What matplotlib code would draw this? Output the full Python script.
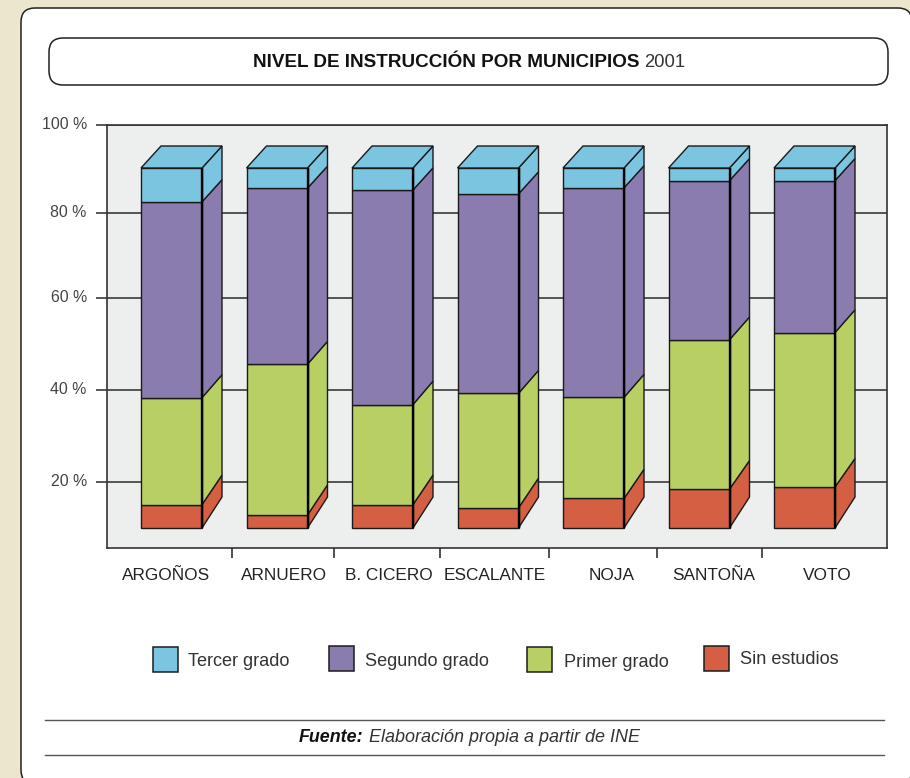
import matplotlib
matplotlib.use("Agg")
import matplotlib.pyplot as plt
from matplotlib.patches import FancyBboxPatch, Rectangle, Polygon
from matplotlib.transforms import ScaledTranslation
import numpy as np

plt.rcParams['font.family'] = ['Liberation Sans', 'DejaVu Sans']

categories = ['ARGOÑOS', 'ARNUERO', 'B. CICERO', 'ESCALANTE', 'NOJA', 'SANTOÑA', 'VOTO']
sin_estudios = [6.5, 3.6, 6.5, 5.6, 8.2, 10.8, 11.4]
primer_grado = [29.7, 41.9, 27.8, 31.8, 28.1, 41.5, 42.9]
segundo_grado = [54.4, 48.9, 59.6, 55.4, 58.2, 44.2, 42.2]
tercer_grado = [9.4, 5.6, 6.1, 7.2, 5.5, 3.5, 3.5]
series_names = ['Sin estudios', 'Primer grado', 'Segundo grado', 'Tercer grado']
series_colors = ['#d45f43', '#b8d063', '#8a7cae', '#7cc5e0']
tick_labels = ['20 %', '40 %', '60 %', '80 %', '100 %']
# the printed scale is not regular with respect to the stacked bars
tick_positions = [12.9, 38.3, 63.9, 87.4, 111.9]

W, H = 910, 778
fig = plt.figure(figsize=(W / 100, H / 100), dpi=100, facecolor='#ece6cf')

# page layer in pixel coordinates
bg = fig.add_axes([0, 0, 1, 1], zorder=0)
bg.set_xlim(0, W); bg.set_ylim(H, 0); bg.axis('off')
bg.add_patch(FancyBboxPatch((21, 8), 891, 776, boxstyle='round,pad=0,rounding_size=14',
                            fc='white', ec='#222222', lw=1.1))
bg.add_patch(FancyBboxPatch((49, 38), 839, 47, boxstyle='round,pad=0,rounding_size=14',
                            fc='white', ec='#222222', lw=1.1))
bg.text(253, 62.5, 'NIVEL DE INSTRUCCIÓN POR MUNICIPIOS', fontsize=13.55, fontweight='bold',
        ha='left', va='center', color='#111111')
bg.text(644, 62.5, '2001', fontsize=13.3, ha='left', va='center', color='#333333')
for y in (720, 755):
    bg.plot([45, 884], [y, y], color='#555555', lw=1.0)
bg.text(299, 737.5, 'Fuente:', fontsize=12.9, fontweight='bold', style='italic', ha='left',
        va='center', color='#111111')
bg.text(369, 737.5, 'Elaboración propia a partir de INE', fontsize=13, style='italic', ha='left',
        va='center', color='#333333')

# legend
legend = [(3, 153, 646.5, 188, 661.5), (2, 329, 645.5, 365, 661.5),
          (1, 527, 647, 564, 662.5), (0, 704, 646, 740, 659.5)]
for idx, sx, sy, tx, ty in legend:
    bg.add_patch(Rectangle((sx, sy), 25, 25, fc=series_colors[idx], ec='#1c1c1c', lw=1.1))
    bg.text(tx, ty, series_names[idx], fontsize=13.1, ha='left', va='center', color='#333333')

# chart axes
L, R, T, B = 107, 887, 125, 548
ax = fig.add_axes([L / W, 1 - B / H, (R - L) / W, (B - T) / H], zorder=1, facecolor='#edefef')
px_per_cat = 105.5
px_per_pct = 3.6
first_center_px = 171.5
ax.set_xlim((L - first_center_px) / px_per_cat, (R - first_center_px) / px_per_cat)
ax.set_ylim((528 - B) / px_per_pct, (528 - T) / px_per_pct)
for s in ax.spines.values():
    s.set_color('#333333'); s.set_linewidth(1.2)

bar_w = 61 / px_per_cat
depth_x = 20 / px_per_cat


def depth_y(p):
    return np.interp(p, [0, 36, 100], [31, 23, 22]) / px_per_pct


x = np.arange(len(categories))
stack = np.vstack([sin_estudios, primer_grado, segundo_grado, tercer_grado])
cum = np.cumsum(stack, axis=0)
cum = cum / cum[-1] * 100
base = np.vstack([np.zeros(len(categories)), cum[:-1]])

ax.set_yticks(tick_positions, tick_labels)
ax.yaxis.grid(True, color='#3a3a3a', lw=1.2, zorder=1)
ax.set_axisbelow(True)
ax.tick_params(axis='y', length=8, width=1.2, color='#3a3a3a', labelsize=11.4, labelcolor='#444444', pad=6.5)
shift = ScaledTranslation(0, 2 / 100, fig.dpi_scale_trans)
for lab in ax.get_yticklabels():
    lab.set_transform(lab.get_transform() + shift)
ax.set_xticks([(p - first_center_px) / px_per_cat for p in (232, 334, 440, 549, 657, 762)])
ax.set_xticklabels([])
ax.tick_params(axis='x', length=7, width=1.1, color='#222222')

edge = '#1a1a1a'
for i, xi in enumerate(x):
    l, r = xi - bar_w / 2, xi + bar_w / 2
    for s in range(4):
        lo, hi = base[s, i], cum[s, i]
        ax.add_patch(Polygon([(r, lo), (r + depth_x, lo + depth_y(lo)),
                              (r + depth_x, hi + depth_y(hi)), (r, hi)],
                             closed=True, fc=series_colors[s], ec=edge, lw=1.0, zorder=3))
        ax.add_patch(Rectangle((l, lo), bar_w, hi - lo, fc=series_colors[s], ec=edge, lw=1.0, zorder=4))
    ax.add_patch(Polygon([(l, 100), (r, 100), (r + depth_x, 100 + depth_y(100)),
                          (l + depth_x, 100 + depth_y(100))],
                         closed=True, fc=series_colors[3], ec=edge, lw=1.0, zorder=4))
    ax.plot([r, r], [0, 100], color='black', lw=1.7, zorder=5, solid_capstyle='butt')

label_x = [166, 284, 389, 495, 612, 714, 827]
for name, lx in zip(categories, label_x):
    bg.text(lx, 576, name, fontsize=12.4, ha='center', va='center', color='#222222')

fig.savefig('out.png', dpi=100, facecolor=fig.get_facecolor())
